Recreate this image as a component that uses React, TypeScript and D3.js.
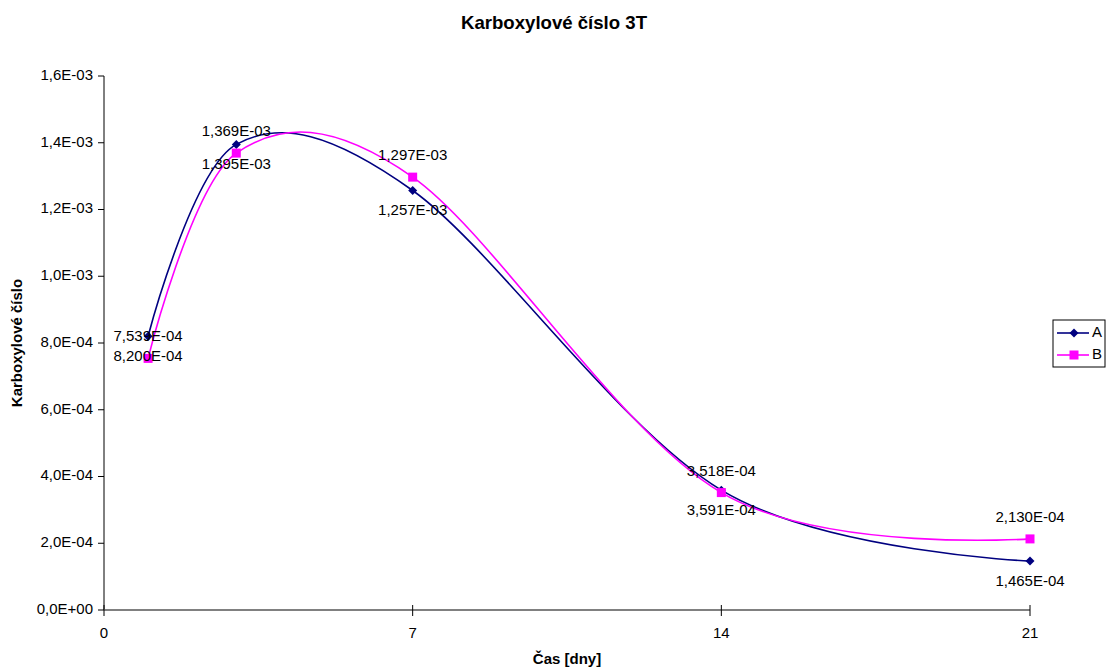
import React from "react";
import * as d3 from "d3";

// Days of measurement
const days = [1, 3, 7, 14, 21];
// Carboxyl number, series A and B
const seriesA = [8.2e-4, 1.395e-3, 1.257e-3, 3.591e-4, 1.465e-4];
const seriesB = [7.539e-4, 1.369e-3, 1.297e-3, 3.518e-4, 2.13e-4];
const xTicks = [0, 7, 14, 21];
const yTicks = [0, 2e-4, 4e-4, 6e-4, 8e-4, 1.0e-3, 1.2e-3, 1.4e-3, 1.6e-3];

const W = 1110;
const H = 672;
const FONT = "'Liberation Sans', Arial, sans-serif";
const NAVY = "#000080";
const MAGENTA = "#FF00FF";
const FS = 15;

// Scientific notation with a decimal comma, e.g. 1,369E-03
function sci(v: number, digits: number): string {
  if (v === 0) return (0).toFixed(digits).replace(".", ",") + "E+00";
  const exp = Math.floor(Math.log10(Math.abs(v)));
  let mant = v / Math.pow(10, exp);
  let e = exp;
  if (Number(mant.toFixed(digits)) >= 10) {
    mant /= 10;
    e += 1;
  }
  const sign = e < 0 ? "-" : "+";
  const ee = String(Math.abs(e)).padStart(2, "0");
  return mant.toFixed(digits).replace(".", ",") + "E" + sign + ee;
}

export default function App() {
  const x = d3.scaleLinear().domain([0, 21]).range([104, 1030]);
  const y = d3.scaleLinear().domain([0, 1.6e-3]).range([610, 76]);

  const line = d3
    .line<number>()
    .x((_, i) => x(days[i]))
    .y((d) => y(d))
    .curve(d3.curveCardinal.tension(0));

  const diamond = (cx: number, cy: number, r = 4.5) =>
    `M${cx},${cy - r}L${cx + r},${cy}L${cx},${cy + r}L${cx - r},${cy}Z`;

  return (
    <svg
      width={W}
      height={H}
      style={{ position: "absolute", left: 0, top: 0, background: "#fff" }}
      fontFamily={FONT}
    >
      <rect x={0} y={0} width={W} height={H} fill="#fff" />
      {/* Title */}
      <text x={554} y={24} textAnchor="middle" dominantBaseline="middle" fontSize={18.6} fontWeight="bold">
        Karboxylové číslo 3T
      </text>

      {/* Y axis */}
      <line x1={104} x2={104} y1={y(1.6e-3)} y2={610} stroke="#000" strokeWidth={1} />
      {yTicks.map((t) => (
        <g key={t}>
          <line x1={98} x2={104} y1={y(t)} y2={y(t)} stroke="#000" strokeWidth={1} />
          <text x={93} y={y(t)} textAnchor="end" dominantBaseline="middle" fontSize={FS}>
            {sci(t, 1)}
          </text>
        </g>
      ))}

      {/* X axis */}
      <line x1={104} x2={1030} y1={610} y2={610} stroke="#808080" strokeWidth={2} />
      {xTicks.map((t) => (
        <g key={t}>
          <line x1={x(t)} x2={x(t)} y1={605} y2={616} stroke="#000" strokeWidth={1} />
          <text x={x(t)} y={634} textAnchor="middle" dominantBaseline="middle" fontSize={FS}>
            {t}
          </text>
        </g>
      ))}

      {/* Axis titles */}
      <text x={567} y={660} textAnchor="middle" dominantBaseline="middle" fontSize={FS} fontWeight="bold">
        Čas [dny]
      </text>
      <text
        transform={`translate(18,343) rotate(-90)`}
        textAnchor="middle"
        dominantBaseline="middle"
        fontSize={FS}
        fontWeight="bold"
      >
        Karboxylové číslo
      </text>

      {/* Series A */}
      <path d={line(seriesA) || ""} fill="none" stroke={NAVY} strokeWidth={1.6} />
      {seriesA.map((v, i) => (
        <path key={"a" + i} d={diamond(x(days[i]), y(v))} fill={NAVY} />
      ))}

      {/* Series B */}
      <path d={line(seriesB) || ""} fill="none" stroke={MAGENTA} strokeWidth={1.6} />
      {seriesB.map((v, i) => (
        <rect key={"b" + i} x={x(days[i]) - 4.5} y={y(v) - 4.5} width={9} height={9} fill={MAGENTA} />
      ))}

      {/* Data labels: A below its markers, B above */}
      {seriesA.map((v, i) => (
        <text
          key={"la" + i}
          x={x(days[i])}
          y={y(v) + 21}
          textAnchor="middle"
          dominantBaseline="middle"
          fontSize={FS}
        >
          {sci(v, 3)}
        </text>
      ))}
      {seriesB.map((v, i) => (
        <text
          key={"lb" + i}
          x={x(days[i])}
          y={y(v) - 21}
          textAnchor="middle"
          dominantBaseline="middle"
          fontSize={FS}
        >
          {sci(v, 3)}
        </text>
      ))}

      {/* Legend */}
      <rect x={1053} y={320} width={52} height={47} fill="#fff" stroke="#000" strokeWidth={1} />
      <line x1={1057} x2={1089} y1={333} y2={333} stroke={NAVY} strokeWidth={1.6} />
      <path d={diamond(1074, 333)} fill={NAVY} />
      <text x={1092} y={333} dominantBaseline="middle" fontSize={FS}>
        A
      </text>
      <line x1={1057} x2={1089} y1={355} y2={355} stroke={MAGENTA} strokeWidth={1.6} />
      <rect x={1069.5} y={350.5} width={9} height={9} fill={MAGENTA} />
      <text x={1092} y={355} dominantBaseline="middle" fontSize={FS}>
        B
      </text>
    </svg>
  );
}
